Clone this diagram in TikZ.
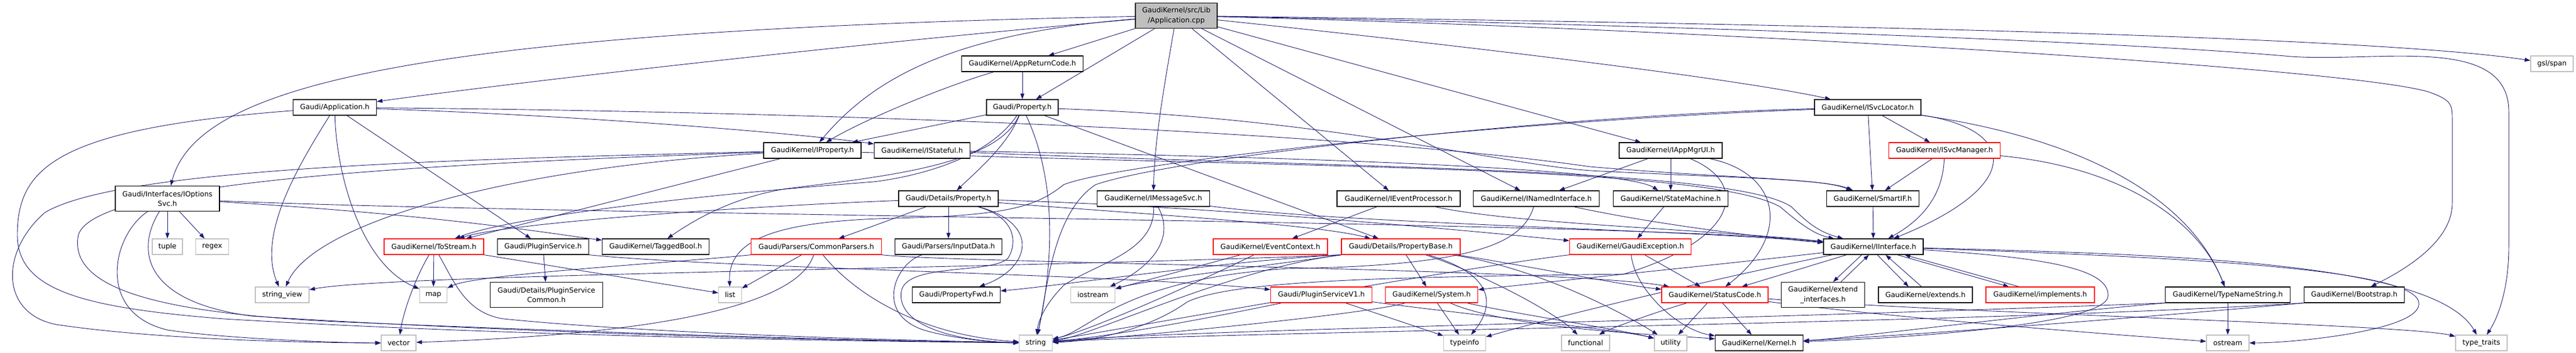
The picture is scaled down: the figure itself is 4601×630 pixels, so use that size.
\documentclass[tikz,border=0pt]{standalone}
\usepackage{fontspec}
\setmainfont{DejaVu Sans}
\usetikzlibrary{arrows.meta}
\definecolor{edgeblue}{HTML}{191970}
\definecolor{leafgray}{HTML}{BFBFBF}
\definecolor{rootgray}{HTML}{BFBFBF}
\pgfdeclarelayer{bg}
\pgfsetlayers{bg,main}
\begin{document}
\begin{tikzpicture}[x=1pt,y=-1pt,
  box/.style={draw=black, fill=white, rectangle, inner sep=0pt, line width=1.2pt, minimum height=28pt, align=center, font=\fontsize{12.6}{17.4}\selectfont},
  leaf/.style={box, draw=leafgray},
  trunc/.style={box, draw=red},
  tall/.style={minimum height=45pt},
  e/.style={draw=edgeblue, line width=0.9pt, -{Triangle[length=10pt,width=7pt]}}]
\useasboundingbox (0,0) rectangle (4601,630);
% row 0
\node[box, tall, fill=rootgray, minimum width=146pt] (root) at (2101,28) {GaudiKernel/src/Lib\\/Application.cpp};
% row 1
\node[box, minimum width=217pt] (arc) at (1826,114) {GaudiKernel/AppReturnCode.h};
\node[leaf, minimum width=76pt] (gsl) at (4558,114) {gsl/span};
% row 2
\node[box, minimum width=149pt] (app) at (598,192) {Gaudi/Application.h};
\node[box, minimum width=128pt] (prop) at (1826,192) {Gaudi/Property.h};
\node[box, minimum width=190pt] (svcloc) at (3336,192) {GaudiKernel/ISvcLocator.h};
% row 3
\node[box, minimum width=174pt] (iprop) at (1451,269) {GaudiKernel/IProperty.h};
\node[box, minimum width=171pt] (istate) at (1647,269) {GaudiKernel/IStateful.h};
\node[box, minimum width=184pt] (iappmgr) at (2984,269) {GaudiKernel/IAppMgrUI.h};
\node[trunc, minimum width=199pt] (isvcmgr) at (3473,269) {GaudiKernel/ISvcManager.h};
% row 4
\node[box, tall, minimum width=186pt] (iopts) at (299,355) {Gaudi/Interfaces/IOptions\\Svc.h};
\node[box, minimum width=178pt] (dprop) at (1694,355) {Gaudi/Details/Property.h};
\node[box, minimum width=201pt] (imsg) at (2060,355) {GaudiKernel/IMessageSvc.h};
\node[box, minimum width=220pt] (ievt) at (2498,355) {GaudiKernel/IEventProcessor.h};
\node[box, minimum width=225pt] (inamed) at (2744,355) {GaudiKernel/INamedInterface.h};
\node[box, minimum width=205pt] (statem) at (2984,355) {GaudiKernel/StateMachine.h};
\node[box, minimum width=165pt] (smartif) at (3345,355) {GaudiKernel/SmartIF.h};
% row 5
\node[leaf, minimum width=54pt] (tuple) at (299,441) {tuple};
\node[leaf, minimum width=59pt] (regex) at (379,441) {regex};
\node[trunc, minimum width=178pt] (tostream) at (775,441) {GaudiKernel/ToStream.h};
\node[box, minimum width=163pt] (plugsvc) at (970,441) {Gaudi/PluginService.h};
\node[box, minimum width=191pt] (tagged) at (1171,441) {GaudiKernel/TaggedBool.h};
\node[trunc, minimum width=233pt] (cparsers) at (1458,441) {Gaudi/Parsers/CommonParsers.h};
\node[box, minimum width=191pt] (inputdata) at (1694,441) {Gaudi/Parsers/InputData.h};
\node[trunc, minimum width=204pt] (evctx) at (2269,441) {GaudiKernel/EventContext.h};
\node[trunc, minimum width=212pt] (propbase) at (2502,441) {Gaudi/Details/PropertyBase.h};
\node[trunc, minimum width=217pt] (gexc) at (2912,441) {GaudiKernel/GaudiException.h};
\node[box, minimum width=178pt] (iiface) at (3346,441) {GaudiKernel/IInterface.h};
% row 6
\node[leaf, minimum width=96pt] (strview) at (504,527) {string\_view};
\node[leaf, minimum width=49pt] (map) at (774,527) {map};
\node[box, tall, minimum width=201pt] (plugcommon) at (976,527) {Gaudi/Details/PluginService\\Common.h};
\node[leaf, minimum width=41pt] (list) at (1304,527) {list};
\node[box, minimum width=157pt] (propfwd) at (1708,527) {Gaudi/PropertyFwd.h};
\node[leaf, minimum width=79pt] (iostream) at (1952,527) {iostream};
\node[trunc, minimum width=181pt] (plugv1) at (2360,527) {Gaudi/PluginServiceV1.h};
\node[trunc, minimum width=165pt] (system) at (2557,527) {GaudiKernel/System.h};
\node[trunc, minimum width=190pt] (status) at (3063,527) {GaudiKernel/StatusCode.h};
\node[box, tall, minimum width=149pt] (extif) at (3256,527) {GaudiKernel/extend\\\_interfaces.h};
\node[box, minimum width=168pt] (extends) at (3439,527) {GaudiKernel/extends.h};
\node[trunc, minimum width=194pt] (impl) at (3644,527) {GaudiKernel/implements.h};
\node[box, minimum width=223pt] (typename) at (3979,527) {GaudiKernel/TypeNameString.h};
\node[box, minimum width=179pt] (bootstrap) at (4205,527) {GaudiKernel/Bootstrap.h};
% row 7
\node[leaf, minimum width=62pt] (vector) at (712,613) {vector};
\node[leaf, minimum width=59pt] (string) at (1850,613) {string};
\node[leaf, minimum width=75pt] (typeinfo) at (2616,613) {typeinfo};
\node[leaf, minimum width=86pt] (functional) at (2832,613) {functional};
\node[leaf, minimum width=58pt] (utility) at (2984,613) {utility};
\node[box, minimum width=157pt] (kernel) at (3142,613) {GaudiKernel/Kernel.h};
\node[leaf, minimum width=76pt] (ostream) at (3979,613) {ostream};
\node[leaf, minimum width=92pt] (typetraits) at (4432,613) {type\_traits};

\begin{pgfonlayer}{bg}
% root
\draw[e] (root) .. controls (1500,80) and (900,150) .. (app);
\draw[e] (root) .. controls (700,55) and (350,160) .. (iopts);
\draw[e] (root) .. controls (1700,60) and (1560,140) .. (iprop);
\draw[e] (root) -- (arc);
\draw[e] (root) -- (prop);
\draw[e] (root) .. controls (2080,150) and (2062,250) .. (imsg);
\draw[e] (root) -- (ievt);
\draw[e] (root) -- (inamed);
\draw[e] (root) .. controls (2600,80) and (3100,140) .. (svcloc);
\draw[e] (root) -- (iappmgr);
\draw[e] (root) .. controls (3000,40) and (4200,60) .. (gsl);
\draw[e] (root) .. controls (3000,45) and (3800,75) .. (4092,101) .. controls (4250,112) and (4481,60) .. (4481,200) -- (4481,440) .. controls (4481,520) and (4460,570) .. (typetraits);
\draw[e] (root) .. controls (3000,50) and (4200,120) .. (4340,165) .. controls (4375,178) and (4380,185) .. (4380,210) -- (4380,363) .. controls (4380,430) and (4300,480) .. (bootstrap);
% AppReturnCode
\draw[e] (arc) -- (prop);
\draw[e] (arc) .. controls (1700,150) and (1550,210) .. (iprop);
% Application.h
\draw[e] (app) .. controls (1000,205) and (1400,235) .. (istate);
\draw[e] (app) .. controls (1500,200) and (2400,235) .. (2840,298) .. controls (3100,320) and (3250,318) .. (smartif);
\draw[e] (app) -- (plugsvc);
\draw[e] (app) .. controls (600,300) and (640,470) .. (map);
\draw[e] (app) .. controls (530,300) and (460,420) .. (strview);
\draw[e] (app) .. controls (100,230) and (31,300) .. (31,420) .. controls (31,520) and (150,550) .. (400,570) .. controls (900,600) and (1500,610) .. (string);
% Property.h
\draw[e] (prop) .. controls (1800,260) and (1740,310) .. (dprop);
\draw[e] (prop) -- (propbase);
\draw[e] (prop) -- (iprop);
\draw[e] (prop) .. controls (2400,212) and (2700,300) .. (2860,306) .. controls (3100,318) and (3260,320) .. (smartif);
\draw[e] (prop) .. controls (1780,300) and (1550,318) .. (1400,338) .. controls (1300,355) and (1230,400) .. (tagged);
\draw[e] (prop) .. controls (1760,290) and (1620,318) .. (1560,325) .. controls (1100,360) and (880,400) .. (tostream);
\draw[e] (prop) .. controls (1900,350) and (1870,520) .. (string);
% IProperty.h
\draw[e] (iprop) .. controls (2300,300) and (3050,295) .. (3180,370) .. controls (3220,405) and (3245,420) .. (iiface);
\draw[e] (iprop) -- (tostream);
\draw[e] (iprop) .. controls (800,285) and (214,300) .. (80,380) .. controls (0,450) and (0,560) .. (100,580) .. controls (300,610) and (600,613) .. (vector);
\draw[e] (iprop) .. controls (800,292) and (170,320) .. (140,420) .. controls (120,520) and (300,560) .. (600,575) .. controls (1200,600) and (1600,610) .. (string);
\draw[e] (iprop) .. controls (900,300) and (560,400) .. (strview);
% IStateful.h
\draw[e] (istate) .. controls (2400,300) and (3100,300) .. (3200,370) .. controls (3230,400) and (3250,415) .. (iiface);
\draw[e] (istate) .. controls (2300,280) and (2900,300) .. (statem);
% IAppMgrUI.h
\draw[e] (iappmgr) -- (inamed);
\draw[e] (iappmgr) -- (statem);
\draw[e] (iappmgr) .. controls (3180,310) and (3200,420) .. (status);
\draw[e] (iappmgr) .. controls (3130,330) and (3100,430) .. (2900,490) .. controls (2500,495) and (2200,500) .. (2120,540) .. controls (2050,590) and (1950,610) .. (string);
% ISvcLocator.h
\draw[e] (svcloc) -- (smartif);
\draw[e] (svcloc) -- (isvcmgr);
\draw[e] (svcloc) .. controls (3600,230) and (3620,330) .. (iiface);
\draw[e] (svcloc) .. controls (3800,260) and (3930,400) .. (typename);
\draw[e] (svcloc) .. controls (2800,205) and (2100,280) .. (1957,330) .. controls (1880,380) and (1870,520) .. (string);
\draw[e] (svcloc) .. controls (2700,215) and (2000,290) .. (1900,330) .. controls (1850,370) and (1800,385) .. (1600,390) .. controls (1380,395) and (1300,430) .. (list);
% ISvcManager.h
\draw[e] (isvcmgr) -- (smartif);
\draw[e] (isvcmgr) .. controls (3800,300) and (3930,400) .. (typename);
\draw[e] (isvcmgr) .. controls (3470,360) and (3420,400) .. (iiface);
% IOptionsSvc.h
\draw[e] (iopts) -- (tuple);
\draw[e] (iopts) -- (regex);
\draw[e] (iopts) .. controls (1000,385) and (2900,395) .. (iiface);
\draw[e] (iopts) .. controls (800,385) and (1000,420) .. (tagged);
\draw[e] (iopts) .. controls (200,420) and (170,560) .. (300,590) .. controls (400,605) and (600,613) .. (vector);
\draw[e] (iopts) .. controls (240,450) and (260,540) .. (450,565) .. controls (1000,600) and (1600,610) .. (string);
% Details/Property.h
\draw[e] (dprop) -- (inputdata);
\draw[e] (dprop) -- (cparsers);
\draw[e] (dprop) .. controls (1300,370) and (900,400) .. (tostream);
\draw[e] (dprop) .. controls (1860,400) and (1840,480) .. (propfwd);
\draw[e] (dprop) .. controls (1820,390) and (1815,440) .. (1800,462) .. controls (1770,490) and (1620,470) .. (1610,520) .. controls (1600,580) and (1700,610) .. (string);
\draw[e] (dprop) .. controls (2000,380) and (2350,400) .. (propbase);
\draw[e] (dprop) .. controls (2200,370) and (2700,420) .. (gexc);
% IMessageSvc.h
\draw[e] (imsg) .. controls (2400,400) and (3000,410) .. (iiface);
\draw[e] (imsg) .. controls (2064,450) and (1960,470) .. (1900,510) .. controls (1870,540) and (1855,570) .. (string);
\draw[e] (imsg) .. controls (2102,430) and (2050,480) .. (iostream);
% IEventProcessor.h
\draw[e] (ievt) -- (evctx);
\draw[e] (ievt) .. controls (2700,400) and (3050,410) .. (iiface);
% INamedInterface.h
\draw[e] (inamed) .. controls (2950,400) and (3150,425) .. (iiface);
\draw[e] (inamed) .. controls (2720,430) and (2650,475) .. (2300,480) .. controls (2000,500) and (1950,590) .. (string);
% StateMachine.h
\draw[e] (statem) -- (gexc);
% SmartIF.h
\draw[e] (smartif) -- (iiface);
% ToStream.h
\draw[e] (tostream) -- (map);
\draw[e] (tostream) .. controls (740,500) and (720,560) .. (vector);
\draw[e] (tostream.south east) -- (list);
\draw[e] (tostream) .. controls (810,500) and (830,560) .. (900,570) .. controls (1200,600) and (1700,610) .. (string);
% PluginService.h
\draw[e] (plugsvc) -- (plugcommon);
\draw[e] (plugsvc.south east) .. controls (1300,480) and (2000,490) .. (plugv1);
% CommonParsers.h
\draw[e] (cparsers) -- (list);
\draw[e] (cparsers.south west) .. controls (1200,470) and (850,490) .. (map);
\draw[e] (cparsers) .. controls (1420,560) and (1100,600) .. (vector);
\draw[e] (cparsers) .. controls (1530,530) and (1650,600) .. (string);
\draw[e] (cparsers.south east) .. controls (1700,470) and (2800,480) .. (status);
% InputData.h
\draw[e] (inputdata) .. controls (1600,470) and (1560,560) .. (1650,590) .. controls (1700,605) and (1780,613) .. (string);
% EventContext.h
\draw[e] (evctx) -- (iostream);
\draw[e] (evctx) .. controls (2150,500) and (1950,590) .. (string);
% PropertyBase.h
\draw[e] (propbase) -- (system);
\draw[e] (propbase) .. controls (2700,500) and (2650,570) .. (typeinfo);
\draw[e] (propbase) .. controls (2650,490) and (2780,560) .. (functional);
\draw[e] (propbase) .. controls (2700,470) and (2900,510) .. (status);
\draw[e] (propbase) .. controls (2750,480) and (2900,560) .. (utility);
\draw[e] (propbase.south west) .. controls (2300,470) and (2050,500) .. (iostream);
\draw[e] (propbase.south west) .. controls (2200,465) and (1900,510) .. (propfwd);
\draw[e] (propbase.south west) .. controls (1800,480) and (700,490) .. (strview);
\draw[e] (propbase.south west) .. controls (2200,480) and (1950,600) .. (string);
% GaudiException.h
\draw[e] (gexc) -- (status);
\draw[e] (gexc) .. controls (2920,520) and (3000,590) .. (kernel);
\draw[e] (gexc.south west) .. controls (2600,480) and (2050,580) .. (string);
% IInterface.h
\draw[e] ([xshift=-21pt]iiface.south) -- ([xshift=18pt]extif.north);
\draw[e] ([xshift=32pt]extif.north) -- ([xshift=-8pt]iiface.south);
\draw[e] ([xshift=7pt]iiface.south) -- ([xshift=-30pt]extends.north);
\draw[e] ([xshift=-7pt]extends.north) -- ([xshift=22pt]iiface.south);
\draw[e] ([xshift=43pt]iiface.south) -- ([xshift=-56pt]impl.north);
\draw[e] ([xshift=-38pt]impl.north) -- ([xshift=56pt]iiface.south);
\draw[e] (iiface) -- (status);
\draw[e] (iiface) .. controls (3900,455) and (4350,470) .. (typetraits);
\draw[e] (iiface) .. controls (3900,460) and (4310,480) .. (4320,540) .. controls (4330,590) and (4100,613) .. (ostream);
\draw[e] (iiface) .. controls (3650,460) and (3770,480) .. (3765,530) .. controls (3760,580) and (3400,605) .. (kernel);
\draw[e] (iiface) .. controls (3100,470) and (2800,500) .. (system);
\draw[e] (iiface) .. controls (3100,490) and (2800,560) .. (typeinfo);
% PluginServiceV1.h
\draw[e] (plugv1) .. controls (2200,560) and (2000,600) .. (string);
\draw[e] (plugv1) -- (typeinfo);
\draw[e] (plugv1) .. controls (2600,560) and (2900,590) .. (utility);
% System.h
\draw[e] (system) -- (typeinfo);
\draw[e] (system) .. controls (2700,560) and (2900,590) .. (utility);
\draw[e] (system) .. controls (2450,560) and (2050,600) .. (string);
\draw[e] (system) .. controls (2700,590) and (3000,600) .. (kernel);
% StatusCode.h
\draw[e] (status) -- (utility);
\draw[e] (status) -- (kernel);
\draw[e] (status) .. controls (2950,560) and (2870,590) .. (functional);
\draw[e] (status) .. controls (3400,570) and (3800,600) .. (ostream);
\draw[e] (status) .. controls (3500,560) and (4300,580) .. (typetraits);
% TypeNameString.h
\draw[e] (typename) -- (ostream);
\draw[e] (typename.south west) .. controls (3600,565) and (3300,605) .. (kernel);
\draw[e] (typename.south west) .. controls (3000,575) and (2100,590) .. (string);
% Bootstrap.h
\draw[e] (bootstrap.south west) .. controls (3800,570) and (3400,600) .. (kernel);
\draw[e] (bootstrap.south west) .. controls (3500,580) and (2200,592) .. (string);
\end{pgfonlayer}
\end{tikzpicture}
\end{document}
